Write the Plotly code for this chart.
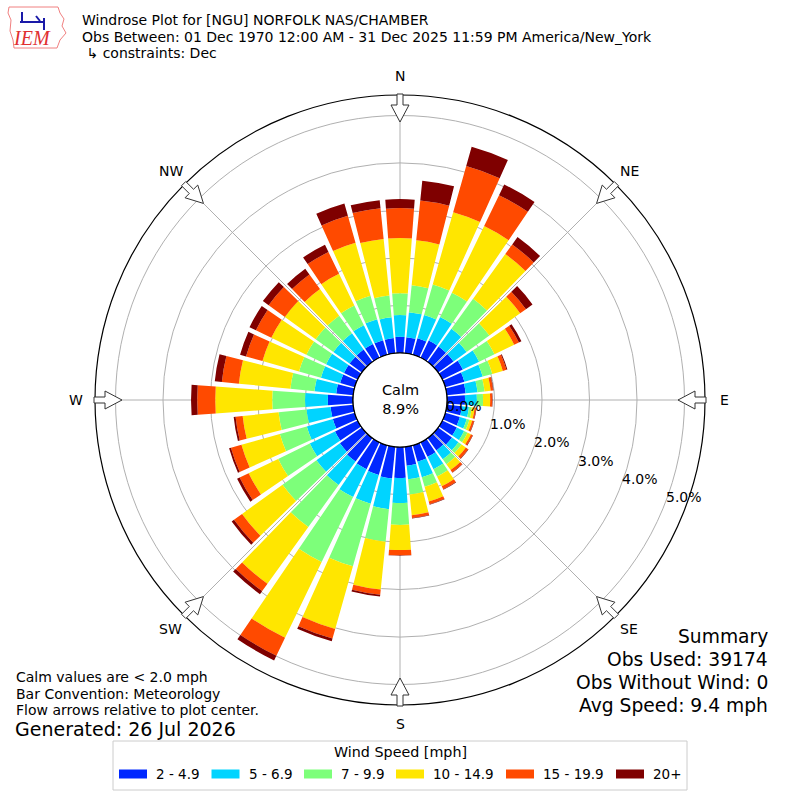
import math
import plotly.graph_objects as go

# wind directions (deg, meteorological) and frequency (%) per speed bin
directions = list(range(0, 360, 10))

bins = ["2 - 4.9", "5 - 6.9", "7 - 9.9", "10 - 14.9", "15 - 19.9", "20+"]
colors = ["#0028ff", "#00d4ff", "#7dff7a", "#ffe600", "#ff4a00", "#7f0000"]

spd_2_5 = [0.34, 0.34, 0.36, 0.40, 0.40, 0.40, 0.48, 0.42, 0.40, 0.38, 0.32, 0.32,
           0.34, 0.36, 0.32, 0.34, 0.36, 0.40, 0.65, 0.67, 0.65, 0.63, 0.61, 0.57,
           0.53, 0.48, 0.48, 0.53, 0.36, 0.32, 0.32, 0.32, 0.32, 0.32, 0.32, 0.32]
spd_5_7 = [0.46, 0.53, 0.51, 0.55, 0.46, 0.34, 0.38, 0.40, 0.25, 0.25, 0.15, 0.15,
           0.17, 0.17, 0.23, 0.29, 0.34, 0.29, 0.53, 0.65, 0.63, 0.65, 0.61, 0.61,
           0.59, 0.57, 0.51, 0.48, 0.46, 0.42, 0.42, 0.42, 0.42, 0.44, 0.46, 0.44]
spd_7_10 = [0.46, 0.57, 0.67, 0.57, 0.78, 0.59, 0.36, 0.21, 0.15, 0.13, 0.06, 0.06,
            0.08, 0.08, 0.13, 0.17, 0.21, 0.32, 0.46, 0.69, 1.37, 1.52, 1.09, 0.88,
            0.74, 0.59, 0.59, 0.69, 0.51, 0.48, 0.46, 0.46, 0.46, 0.46, 0.51, 0.46]
spd_10_15 = [1.16, 0.95, 1.58, 1.56, 1.16, 0.80, 0.46, 0.23, 0.13, 0.15, 0.06, 0.06,
             0.08, 0.11, 0.15, 0.23, 0.32, 0.44, 0.53, 1.01, 1.37, 1.77, 1.47, 1.05,
             0.69, 0.84, 0.76, 1.20, 1.09, 0.80, 0.82, 0.80, 0.69, 0.74, 1.16, 1.20]
spd_15_20 = [0.63, 0.84, 1.01, 0.72, 0.25, 0.15, 0.11, 0.08, 0.05, 0.04, 0.03, 0.04,
             0.04, 0.06, 0.06, 0.07, 0.06, 0.06, 0.11, 0.11, 0.21, 0.42, 0.19, 0.21,
             0.21, 0.23, 0.15, 0.38, 0.36, 0.36, 0.36, 0.42, 0.38, 0.51, 0.59, 0.65]
spd_20 = [0.19, 0.42, 0.42, 0.25, 0.19, 0.17, 0.06, 0.02, 0.01, 0.01, 0.01, 0.01,
          0.01, 0.01, 0.01, 0.01, 0.01, 0.01, 0.01, 0.04, 0.06, 0.11, 0.08, 0.06,
          0.06, 0.04, 0.04, 0.13, 0.15, 0.13, 0.15, 0.15, 0.15, 0.17, 0.27, 0.17]
speed_values = [spd_2_5, spd_5_7, spd_7_10, spd_10_15, spd_15_20, spd_20]

radial_ticks = [0, 1, 2, 3, 4, 5]
compass = ["N", "NE", "E", "SE", "S", "SW", "W", "NW"]
compass_deg = [0, 45, 90, 135, 180, 225, 270, 315]

title_lines = ["Windrose Plot for [NGU] NORFOLK NAS/CHAMBER",
               "Obs Between: 01 Dec 1970 12:00 AM - 31 Dec 2025 11:59 PM America/New_York",
               " \u21b3 constraints: Dec"]
calm_pct = 8.9
summary = ["Summary", "Obs Used: 39174", "Obs Without Wind: 0", "Avg Speed: 9.4 mph"]
notes = ["Calm values are < 2.0 mph", "Bar Convention: Meteorology",
         "Flow arrows relative to plot center."]
generated = "Generated: 26 Jul 2026"

# geometry (pixels)
W = H = 800
CX, CY = 400, 400
R_HOLE = 47
PX_PER_PCT = 47.5
R_OUT = 305
FONT = "DejaVu Sans"


def px(x, y):
    return x / W, 1 - y / H


def polar_px(deg, r):
    a = math.radians(deg)
    return CX + r * math.sin(a), CY - r * math.cos(a)


def label(x, y, text, size, xa="center", ya="middle", color="black", family=FONT, **kw):
    a, b = px(x, y)
    return dict(x=a, y=b, xref="paper", yref="paper", text=text, showarrow=False,
                xanchor=xa, yanchor=ya, font=dict(size=size, color=color, family=family), **kw)


fig = go.Figure()

for name, col, vals in zip(bins, colors, speed_values):
    fig.add_trace(go.Barpolar(r=vals, theta=directions, width=8.4, name=name,
                              marker=dict(color=col, line=dict(width=0)),
                              showlegend=False, hoverinfo="skip"))

# calm circle edge
ring = list(range(0, 361, 2))
fig.add_trace(go.Scatterpolar(r=[0] * len(ring), theta=ring, mode="lines",
                              line=dict(color="black", width=1.2),
                              showlegend=False, hoverinfo="skip"))

shapes = []
annotations = []

# flow arrows
for deg in compass_deg:
    a = math.radians(deg)
    ux, uy = math.sin(a), -math.cos(a)
    vx, vy = math.cos(a), math.sin(a)
    local = [(306, -3), (295, -3), (295, -9), (278, 0), (295, 9), (295, 3), (306, 3)]
    pts = [px(CX + r * ux + s * vx, CY + r * uy + s * vy) for r, s in local]
    path = "M " + " L ".join(f"{x:.5f},{y:.5f}" for x, y in pts) + " Z"
    shapes.append(dict(type="path", xref="paper", yref="paper", path=path,
                       fillcolor="white", line=dict(color="#333333", width=1)))

for lab, deg in zip(compass, compass_deg):
    x, y = polar_px(deg, 324)
    annotations.append(label(x, y, lab, 14))

# radial tick labels
for v in radial_ticks:
    x, y = polar_px(112.5, R_HOLE + PX_PER_PCT * v)
    annotations.append(label(x, y, f"{v:.1f}%", 14, xa="left", ya="bottom", xshift=1, yshift=2))

# calm text
annotations.append(label(CX, CY - 1, f"Calm<br>{calm_pct}%", 14.5))

# title
for i, line in enumerate(title_lines):
    annotations.append(label(80, 20 + 16.5 * i, line, 14, xa="left"))

# summary text
for i, line in enumerate(summary):
    annotations.append(label(770, 636 + 23 * i, line, 18.7, xa="right"))

for i, line in enumerate(notes):
    annotations.append(label(14, 677 + 16.5 * i, line, 14, xa="left"))
annotations.append(label(13, 729, generated, 19, xa="left"))

# legend drawn by hand (matplotlib style)
x0, y0 = px(113, 741)
x1, y1 = px(687, 790)
shapes.append(dict(type="rect", xref="paper", yref="paper", x0=x0, y0=y0, x1=x1, y1=y1,
                   fillcolor="white", line=dict(color="#cccccc", width=1)))
annotations.append(label(400, 752, "Wind Speed [mph]", 14.3))
sw_left = [119, 211.5, 304, 396, 506, 616]
for left, name, col in zip(sw_left, bins, colors):
    a0, b0 = px(left, 769.5)
    a1, b1 = px(left + 28, 778.5)
    shapes.append(dict(type="rect", xref="paper", yref="paper", x0=a0, y0=b0, x1=a1, y1=b1,
                       fillcolor=col, line=dict(width=0)))
    annotations.append(label(left + 35, 774, name, 13.5, xa="left"))

# IEM logo (rough)
iowa = [(9, 7), (58, 7), (60, 13), (64, 19), (62, 26), (66, 33), (60, 40), (57, 48),
        (14, 48), (13, 40), (10, 31), (11, 20), (8, 13)]
path = "M " + " L ".join(f"{px(a, b)[0]:.5f},{px(a, b)[1]:.5f}" for a, b in iowa) + " Z"
shapes.append(dict(type="path", xref="paper", yref="paper", path=path,
                   line=dict(color="#f08080", width=1)))
for (a, b), (c, d) in [((20, 22), (44, 22)), ((44, 22), (44, 27)), ((22, 12), (22, 22)),
                       ((36, 16), (40, 21)), ((44, 18), (44, 30))]:
    p0, p1 = px(a, b), px(c, d)
    shapes.append(dict(type="line", xref="paper", yref="paper", x0=p0[0], y0=p0[1],
                       x1=p1[0], y1=p1[1], line=dict(color="#1a1aa8", width=2)))
annotations.append(label(32, 38, "<i>IEM</i>", 20, color="#e03030", family="Liberation Serif"))

dx0, dy0 = px(CX - R_OUT, CY + R_OUT)
dx1, dy1 = px(CX + R_OUT, CY - R_OUT)

fig.update_layout(
    width=W, height=H,
    margin=dict(l=0, r=0, t=0, b=0),
    paper_bgcolor="white",
    showlegend=False,
    shapes=shapes,
    annotations=annotations,
    polar=dict(
        domain=dict(x=[dx0, dx1], y=[dy0, dy1]),
        hole=R_HOLE / R_OUT,
        bgcolor="white",
        barmode="stack",
        radialaxis=dict(range=[0, (R_OUT - R_HOLE) / PX_PER_PCT], tickvals=[1, 2, 3, 4, 5],
                        showticklabels=False, ticks="", showline=False,
                        gridcolor="#b0b0b0", gridwidth=1, layer="above traces"),
        angularaxis=dict(rotation=90, direction="clockwise", tickvals=compass_deg,
                         showticklabels=False, ticks="", gridcolor="#b0b0b0", gridwidth=1,
                         linecolor="black", linewidth=1.2, layer="above traces"),
    ),
)

fig.write_html("out.html", config={"displayModeBar": False},
               post_script="document.body.style.margin='0';")
